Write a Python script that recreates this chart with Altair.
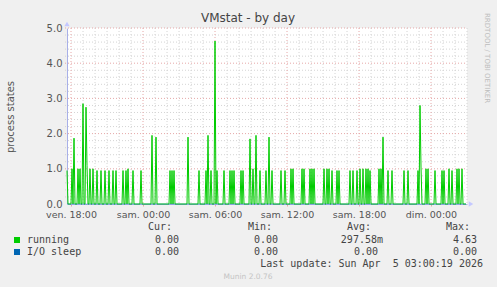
import altair as alt
import pandas as pd

# ---------------- data ----------------
# time axis: hours relative to "sam. 00:00"; one sample every 5 minutes
START_H = -6 - 1 / 3
END_H = 27.0
N_STEPS = 400

# spikes of the "running" series (5-minute step index, value); all other steps are 0
running_steps = [0, 5, 7, 11, 13, 16, 19, 20, 23, 26, 30, 34, 38, 42, 46, 49, 56, 59, 61, 66, 74, 85, 89,
                 103, 105, 107, 121, 132, 139, 141, 144, 148, 150, 157, 163, 165, 167, 174, 176, 183, 186,
                 189, 193, 199, 202, 205,
                 214, 218, 224, 226, 235, 237, 243, 245, 247, 257, 260, 262, 265, 270, 272, 283, 286, 290,
                 293, 296, 299, 301, 303,
                 312, 314, 316, 321, 325, 337, 341, 351, 353, 354, 359, 361, 368, 375, 377, 382, 385, 390,
                 392, 395]
running_values = [0.95, 1.0, 1.87, 1.0, 1.0, 2.85, 2.75, 1.1, 1.0, 1.0, 0.95, 0.95, 0.95, 0.95, 0.95, 0.95,
                  0.95, 0.95, 1.0, 0.95, 0.95, 1.95, 1.9,
                  0.95, 0.95, 0.95, 1.9, 0.95, 0.95, 1.95, 0.95, 4.63, 0.95, 0.95, 0.95, 0.95, 0.95, 0.95,
                  0.95, 1.85, 1.0, 1.95, 0.95, 0.95, 1.9, 0.95,
                  0.95, 0.95, 1.0, 1.0, 1.0, 1.0, 1.0, 1.0, 1.0, 1.0, 1.0, 1.0, 0.95, 0.95, 0.95, 0.95, 0.95,
                  0.95, 1.0, 1.0, 1.0, 1.0, 0.95,
                  1.0, 1.0, 1.9, 0.95, 0.95, 0.95, 0.95, 0.95, 2.8, 1.05, 1.0, 1.0, 0.95, 0.95, 0.95, 1.0,
                  0.95, 1.0, 1.0, 1.0]
io_sleep_value = 0.0

tick_hours = [-6, 0, 6, 12, 18, 24]
tick_labels = ["ven. 18:00", "sam. 00:00", "sam. 06:00", "sam. 12:00", "sam. 18:00", "dim. 00:00"]
minor_hours = [h for h in range(-6, 28) if h % 6 != 0]
y_ticks = [0, 1, 2, 3, 4, 5]
y_minor = [round(i / 5, 1) for i in range(1, 26) if i % 5 != 0]
y_major = [1, 2, 3, 4, 5]

legend_names = ["running", "I/O sleep"]
legend_colors = ["#00cc00", "#0066b3"]
legend_cur = ["0.00", "0.00"]
legend_min = ["0.00", "0.00"]
legend_avg = ["297.58m", "0.00"]
legend_max = ["4.63", "0.00"]

# ---------------- tables ----------------
vals = [0.0] * N_STEPS
for s, v in zip(running_steps, running_values):
    vals[s] = v
hours = [START_H + i * 5 / 60 for i in range(N_STEPS)]
df_run = pd.DataFrame({"h": hours, "v": vals})
df_io = pd.DataFrame({"h": hours, "v": [io_sleep_value] * N_STEPS})

xs = alt.Scale(domain=[START_H, END_H], nice=False, zero=False)
ys = alt.Scale(domain=[0, 5], nice=False)

label_expr = "[" + ",".join("'%s'" % t for t in tick_labels) + "][indexof([" + \
    ",".join(str(h) for h in tick_hours) + "], datum.value)]"

MINOR = "#d4d4d4"
MAJOR = "#e6a8a8"
AXIS = "#a8b0e8"

x_axis = alt.Axis(values=tick_hours, labelExpr=label_expr, grid=False, ticks=True, tickSize=2,
                  tickColor=MAJOR, labelFont="DejaVu Sans", labelFontSize=9.5, labelColor="#555",
                  labelPadding=3, domainColor=AXIS, labelFlush=False, labelOverlap=False, title=None)
y_axis = alt.Axis(values=y_ticks, format=".1f", grid=False, ticks=False, labelFont="DejaVu Sans",
                  labelFontSize=10, labelColor="#555", labelPadding=5, domainColor=AXIS, title=None)


def vgrid(hs, color):
    return alt.Chart(pd.DataFrame({"h": hs})).mark_rule(color=color, strokeDash=[1, 2], strokeWidth=1).encode(
        x=alt.X("h:Q", scale=xs, axis=x_axis), y=alt.value(0), y2=alt.value(176))


def hgrid(vs, color):
    return alt.Chart(pd.DataFrame({"v": vs})).mark_rule(color=color, strokeDash=[1, 2], strokeWidth=1).encode(
        y=alt.Y("v:Q", scale=ys, axis=y_axis), x=alt.value(-2), x2=alt.value(400))


one = pd.DataFrame({"k": [0]})


def txt(s, x, y, size=10, color="#444", font="DejaVu Sans", align="left", baseline="alphabetic", angle=0):
    kw = dict(fontSize=size, color=color, font=font, align=align, baseline=baseline)
    if angle:
        kw["angle"] = angle
    return alt.Chart(one).mark_text(**kw).encode(x=alt.value(x), y=alt.value(y), text=alt.value(s))


line_run = alt.Chart(df_run).mark_line(color=legend_colors[0], strokeWidth=1, interpolate="linear").encode(
    x=alt.X("h:Q", scale=xs, axis=x_axis),
    y=alt.Y("v:Q", scale=ys, axis=y_axis),
)
line_io = alt.Chart(df_io).mark_line(color=legend_colors[1], strokeWidth=1, opacity=0.35).encode(
    x=alt.X("h:Q", scale=xs, axis=x_axis), y=alt.Y("v:Q", scale=ys, axis=y_axis))

arrows = [
    alt.Chart(one).mark_point(shape="triangle-up", filled=True, color="#c4c8ff", size=28, opacity=1).encode(
        x=alt.value(0), y=alt.value(-4)),
    alt.Chart(one).mark_point(shape="triangle-right", filled=True, color="#c4c8ff", size=28, opacity=1).encode(
        x=alt.value(404), y=alt.value(176)),
]

texts = [
    txt("VMstat - by day", 181, -6, size=12, color="#444", align="center"),
    txt("process states", -56, 89, size=10, color="#555", align="center", baseline="middle", angle=270),
    txt("RRDTOOL / TOBI OETIKER", 420, -15, size=7, color="#bdbdbd", align="left", baseline="middle", angle=90),
    txt("Cur:", 105, 202, font="DejaVu Sans Mono", align="right"),
    txt("Min:", 205, 202, font="DejaVu Sans Mono", align="right"),
    txt("Avg:", 304, 202, font="DejaVu Sans Mono", align="right"),
    txt("Max:", 403, 202, font="DejaVu Sans Mono", align="right"),
    txt("Last update: Sun Apr \u00a05 03:00:19 2026", 416, 239, font="DejaVu Sans Mono", align="right"),
    txt("Munin 2.0.76", 181, 251, size=7.5, color="#c4c4c4", align="center"),
]
row_y = [215, 227]
for i in range(2):
    y = row_y[i]
    texts.append(txt(legend_names[i], -40, y, font="DejaVu Sans Mono"))
    texts.append(txt(legend_cur[i], 112, y, font="DejaVu Sans Mono", align="right"))
    texts.append(txt(legend_min[i], 211, y, font="DejaVu Sans Mono", align="right"))
    avg_x = 316 if legend_avg[i].endswith("m") else 311
    texts.append(txt(legend_avg[i], avg_x, y, font="DejaVu Sans Mono", align="right"))
    texts.append(txt(legend_max[i], 410, y, font="DejaVu Sans Mono", align="right"))
    texts.append(alt.Chart(one).mark_rect(color=legend_colors[i]).encode(
        x=alt.value(-53), x2=alt.value(-47), y=alt.value(y - 6), y2=alt.value(y)))

chart = alt.layer(
    vgrid(minor_hours, MINOR), hgrid(y_minor, MINOR),
    vgrid(tick_hours, MAJOR), hgrid(y_major, MAJOR),
    line_run, line_io, *arrows, *texts,
).properties(
    width=400, height=176,
    autosize=alt.AutoSizeParams(type="none"),
    padding={"left": 67, "top": 28, "right": 30, "bottom": 83},
    background="#f0f0f0",
).configure_view(fill="white", stroke=None)

chart.save("out.html", embed_options={"renderer": "svg", "actions": False})
